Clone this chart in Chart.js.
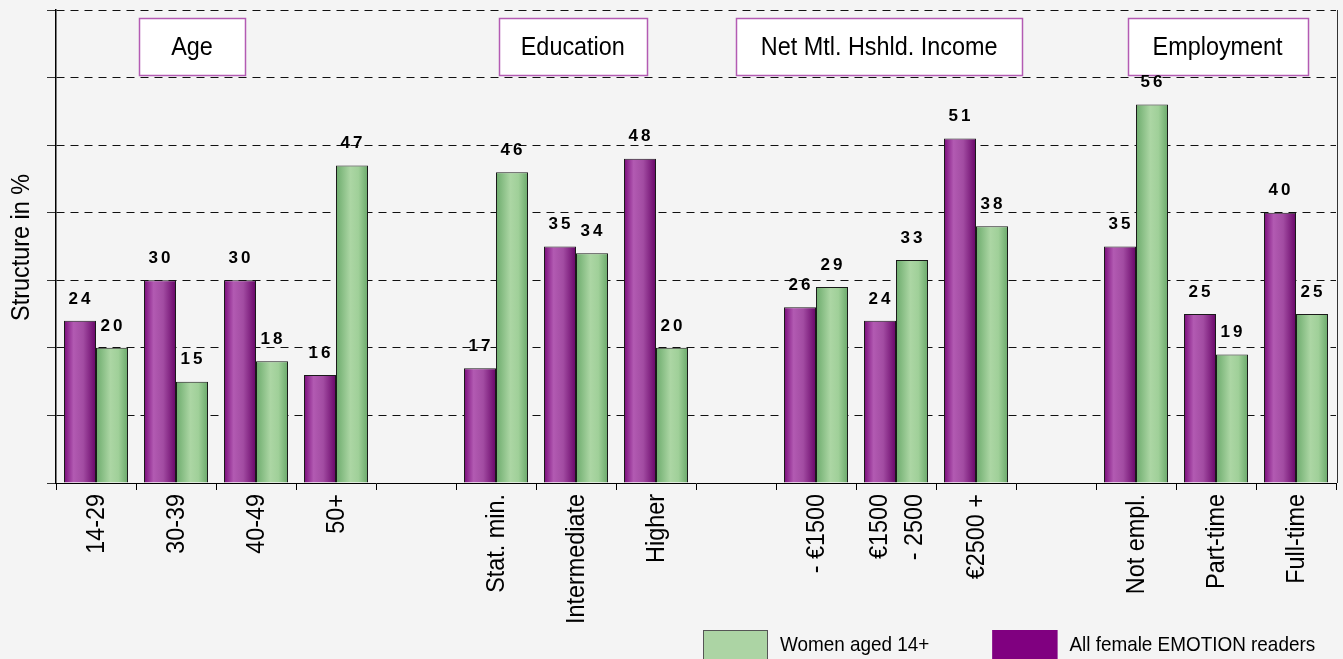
<!DOCTYPE html>
<html><head><meta charset="utf-8">
<script src="https://cdn.jsdelivr.net/npm/chart.js@4/dist/chart.umd.min.js"></script>
<style>html,body{margin:0;padding:0;background:#f4f4f4;}#wrap{width:1343px;height:659px;position:relative;}</style>
</head><body><div id="wrap"><canvas id="c" width="1343" height="659"></canvas></div>
<script>
// ---- data ----
const categories = ['14-29','30-39','40-49','50+','','Stat. min.','Intermediate','Higher','','- €1500',['€1500','- 2500'],'€2500 +','','Not empl.','Part-time','Full-time'];
const readersValues = [24,30,30,16,null,17,35,48,null,26,24,51,null,35,25,40];
const womenValues   = [20,15,18,47,null,46,34,20,null,29,33,38,null,56,19,25];
const seriesNames = ['All female EMOTION readers','Women aged 14+'];
const groupHeaders = ['Age','Education','Net Mtl. Hshld. Income','Employment'];
const yTickValues = [0,10,20,30,40,50,60,70];
const yTitle = 'Structure in %';

// ---- style ----
const FONT = '"Liberation Sans",Arial,Helvetica,sans-serif';
const CONDENSE = 0.9;
const headerLayout = [ {at:1.2, w:106}, {at:5.96, w:148}, {at:9.79, w:286}, {at:14.02, w:180} ];
const purpleStops = [[0,'#7a0c7a'],[0.3,'#b25ab2'],[0.6,'#a24ca2'],[1,'#680568']];
const greenStops  = [[0,'#6cab6c'],[0.45,'#acd6a4'],[0.7,'#a0d099'],[1,'#6aa96a']];

function condensedText(ctx, text, x, y, align){
  ctx.save();
  ctx.translate(x, y);
  ctx.scale(CONDENSE, 1);
  ctx.textAlign = align || 'center';
  ctx.fillText(text, 0, 0);
  ctx.restore();
}

const gradPlugin = {
  id:'grad',
  beforeDatasetsDraw(chart){
    const ctx = chart.ctx, xs = chart.scales.x;
    ctx.save();
    ctx.font = '26px ' + FONT;
    ctx.textBaseline = 'middle';
    const step = xs.getPixelForValue(1) - xs.getPixelForValue(0);
    groupHeaders.forEach((h,i)=>{
      const L = headerLayout[i];
      const cx = xs.getPixelForValue(0) + step*L.at;
      const x0 = Math.round(cx - L.w/2) + 0.5, y0 = 18.5, hh = 57;
      ctx.fillStyle = '#ffffff'; ctx.fillRect(x0, y0, L.w, hh);
      ctx.strokeStyle = '#b35bb3'; ctx.lineWidth = 1.5; ctx.strokeRect(x0, y0, L.w, hh);
      ctx.fillStyle = '#000';
      condensedText(ctx, h, cx, y0 + hh/2 + 1, 'center');
    });
    ctx.restore();
    chart.data.datasets.forEach((ds,i)=>{
      chart.getDatasetMeta(i).data.forEach(bar=>{
        const w = bar.width, x0 = bar.x - w/2;
        const g = ctx.createLinearGradient(x0,0,x0+w,0);
        ds.gradStops.forEach(s=>g.addColorStop(s[0],s[1]));
        bar.options.backgroundColor = g;
      });
    });
  }
};

const labelPlugin = {
  id:'vals',
  afterDatasetsDraw(chart){
    const ctx = chart.ctx;
    ctx.save();
    ctx.font = 'bold 17px ' + FONT;
    ctx.fillStyle = '#000';
    ctx.textAlign = 'center';
    ctx.textBaseline = 'middle';
    try { ctx.letterSpacing = '3px'; } catch(e){}
    chart.data.datasets.forEach((ds,i)=>{
      chart.getDatasetMeta(i).data.forEach((bar,j)=>{
        const v = ds.data[j];
        if (v === null || v === undefined) return;
        ctx.fillText(String(v), bar.x + 1, bar.y - 22);
      });
    });
    ctx.restore();
  }
};

const decoPlugin = {
  id:'deco',
  afterDraw(chart){
    const ctx = chart.ctx, ca = chart.chartArea, xs = chart.scales.x;
    ctx.save();
    ctx.strokeStyle = '#333'; ctx.lineWidth = 1;
    ctx.beginPath(); ctx.moveTo(ca.right+1.5, ca.top); ctx.lineTo(ca.right+1.5, ca.bottom); ctx.stroke();
    ctx.fillStyle = '#000';
    ctx.font = '26px ' + FONT;
    ctx.textBaseline = 'middle';
    categories.forEach((lab,i)=>{
      const lines = Array.isArray(lab) ? lab : [lab];
      if (!lines.join('')) return;
      const cx = xs.getPixelForValue(i);
      const lh = 35;
      lines.forEach((t,k)=>{
        const off = (k - (lines.length-1)/2) * lh;
        ctx.save();
        ctx.translate(cx + off + 1, ca.bottom + 11);
        ctx.rotate(-Math.PI/2);
        ctx.scale(CONDENSE, 1);
        ctx.textAlign = 'right';
        ctx.fillText(t, 0, 0);
        ctx.restore();
      });
    });
    ctx.save();
    ctx.font = '26px ' + FONT;
    ctx.textBaseline = 'middle';
    ctx.translate(22, (ca.top + ca.bottom)/2 + 1);
    ctx.rotate(-Math.PI/2);
    ctx.scale(CONDENSE, 1);
    ctx.textAlign = 'center';
    ctx.fillText(yTitle, 0, 0);
    ctx.restore();
    const items = [chart.data.datasets[1], chart.data.datasets[0]];
    let x = 703; const y = 630;
    ctx.font = '21px ' + FONT; ctx.textBaseline = 'middle';
    items.forEach((ds)=>{
      ctx.fillStyle = ds.legendColor; ctx.fillRect(x, y, 65, 32);
      ctx.strokeStyle = ds.legendBorder; ctx.lineWidth = 1; ctx.strokeRect(x+0.5, y+0.5, 64, 31);
      ctx.fillStyle = '#000';
      condensedText(ctx, ds.label, x + 77, y + 15, 'left');
      x += 77 + ctx.measureText(ds.label).width*CONDENSE + 63;
    });
    ctx.restore();
  }
};

new Chart(document.getElementById('c'), {
  type:'bar',
  data:{
    labels: categories,
    datasets:[
      {label: seriesNames[0], data: readersValues, gradStops: purpleStops, legendColor:'#800080', legendBorder:'#800080',
       backgroundColor: (c)=>'#9a3d9a', borderColor:'#1a1a1a', borderWidth:1, categoryPercentage:0.8, barPercentage:1.0},
      {label: seriesNames[1], data: womenValues, gradStops: greenStops, legendColor:'#acd4a4', legendBorder:'#555',
       backgroundColor: (c)=>'#9ccc94', borderColor:'#1a1a1a', borderWidth:1, categoryPercentage:0.8, barPercentage:1.0}
    ]
  },
  options:{
    responsive:false, animation:false,
    layout:{padding:{top:10, right:7, left:0, bottom:0}},
    plugins:{legend:{display:false}, tooltip:{enabled:false}},
    scales:{
      x:{
        offset:true,
        grid:{offset:true, drawOnChartArea:false, drawTicks:true, tickLength:7, color:'#000'},
        border:{display:true, color:'#000', width:1},
        ticks:{display:false, autoSkip:false},
        afterFit(s){ s.height = 176; }
      },
      y:{
        min: yTickValues[0], max: yTickValues[yTickValues.length-1],
        afterBuildTicks(s){ s.ticks = yTickValues.map(v=>({value:v})); },
        grid:{color:'#111', lineWidth:1, drawTicks:true, tickLength:9, tickBorderDash:[], tickColor:'#333'},
        border:{display:true, color:'#000', width:1.5, dash:[8,6]},
        ticks:{display:false},
        title:{display:false},
        afterFit(s){ s.width = 56; }
      }
    }
  },
  plugins:[gradPlugin, labelPlugin, decoPlugin]
});
</script></body></html>
